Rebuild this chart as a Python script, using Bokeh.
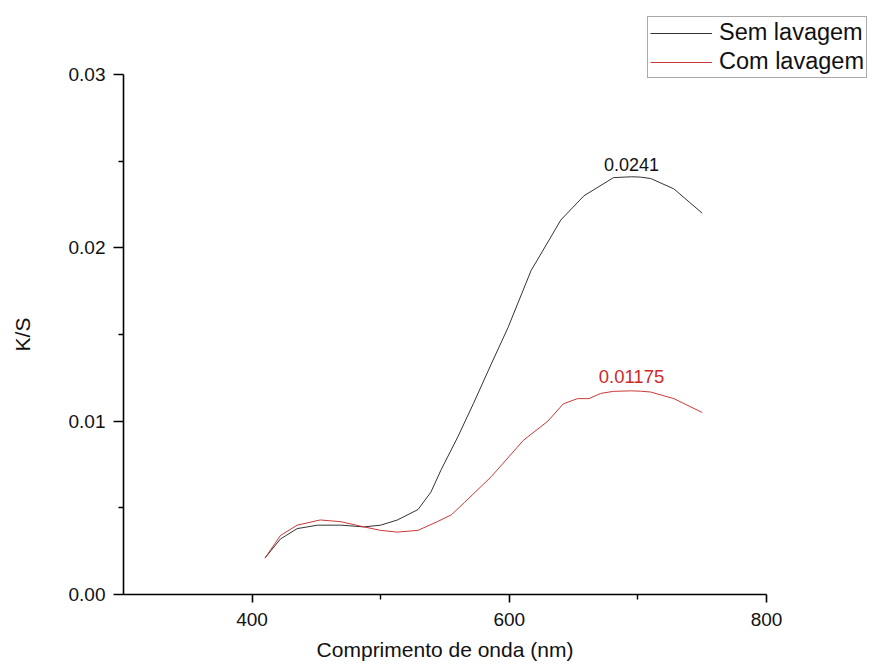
import math
import numpy as np
from bokeh.plotting import figure
from bokeh.models import Range1d, FixedTicker, NumeralTickFormatter, Legend, LegendItem, Label
from bokeh.core.properties import value
from bokeh.embed import file_html
from bokeh.resources import INLINE

# ---- data ----
wavelength_sem = [410, 422, 435, 451, 469, 487, 500, 513, 529, 539, 547, 560, 572, 586, 599,
                  617, 625, 640, 658, 681, 695, 702, 710, 728, 750]
ks_sem = [0.0021, 0.0032, 0.0038, 0.0040, 0.0040, 0.0039, 0.0040, 0.0043, 0.0049, 0.0059, 0.0072,
          0.0091, 0.0110, 0.0133, 0.0154, 0.0187, 0.0197, 0.0216, 0.0230, 0.02405, 0.0241,
          0.02408, 0.0240, 0.0234, 0.0220]

wavelength_com = [410, 422, 435, 453, 469, 487, 500, 513, 529, 544, 555, 565, 586, 611, 630,
                  642, 653, 662, 671, 681, 695, 702, 710, 728, 750]
ks_com = [0.0021, 0.0034, 0.0040, 0.0043, 0.0042, 0.0039, 0.0037, 0.0036, 0.0037, 0.0042, 0.0046,
          0.0053, 0.0068, 0.0089, 0.0100, 0.0110, 0.0113, 0.0113, 0.0116, 0.01172, 0.01175,
          0.01173, 0.01168, 0.0113, 0.0105]

series_names = ["Sem lavagem", "Com lavagem"]
peak_labels = ["0.0241", "0.01175"]
x_title = "Comprimento de onda (nm)"
y_title = "K/S"
x_bounds = (300, 800)
y_bounds = (0.0, 0.03)
x_ticks = [400, 600, 800]
x_minor = [500, 700]
y_ticks = [0.0, 0.01, 0.02, 0.03]
y_minor = [0.005, 0.015, 0.025]

FONT = "Liberation Sans"
BLACK_LINE = "#333333"
RED_LINE = "#cc3838"
RED_TEXT = "#d02828"

# ---- layout (pixels): canvas is the frame, axes are drawn at fixed locations ----
W, H = 870, 662
AX_LEFT, AX_RIGHT, AX_TOP, AX_BOTTOM = 123, 766, 74, 594
sx = (AX_RIGHT - AX_LEFT) / (x_bounds[1] - x_bounds[0])
sy = (AX_BOTTOM - AX_TOP) / (y_bounds[1] - y_bounds[0])
x_range = Range1d(x_bounds[0] - AX_LEFT / sx, x_bounds[0] + (W - AX_LEFT) / sx)
y_range = Range1d(y_bounds[0] - (H - AX_BOTTOM) / sy, y_bounds[0] + AX_BOTTOM / sy)

p = figure(width=W, height=H, output_backend="svg", toolbar_location=None,
           x_range=x_range, y_range=y_range)
p.min_border = 0
p.min_border_left = p.min_border_right = p.min_border_top = p.min_border_bottom = 0
p.outline_line_color = None
p.grid.visible = False
p.background_fill_color = "white"
p.border_fill_color = "white"

p.xaxis.fixed_location = y_bounds[0]
p.yaxis.fixed_location = x_bounds[0]
p.xaxis.bounds = x_bounds
p.yaxis.bounds = y_bounds
p.xaxis.ticker = FixedTicker(ticks=x_ticks, minor_ticks=x_minor)
p.yaxis.ticker = FixedTicker(ticks=y_ticks, minor_ticks=y_minor)
p.yaxis.formatter = NumeralTickFormatter(format="0.00")

for ax in (p.xaxis[0], p.yaxis[0]):
    ax.axis_line_width = 1.6
    ax.axis_line_color = "black"
    ax.major_tick_line_width = 1.6
    ax.minor_tick_line_width = 1.4
    ax.major_tick_in = 0
    ax.minor_tick_in = 0
    ax.major_label_text_font = FONT
    ax.major_label_text_font_size = "19px"
    ax.major_label_text_color = "#111111"
p.xaxis.major_tick_out = 8
p.xaxis.minor_tick_out = 5
p.yaxis.major_tick_out = 10
p.yaxis.minor_tick_out = 5
p.xaxis.major_label_standoff = 10
p.yaxis.major_label_standoff = 8

# axis titles
p.add_layout(Label(x=(AX_LEFT + AX_RIGHT) / 2, y=H - 649, x_units="screen", y_units="screen",
                   text=x_title, text_align="center", text_baseline="middle",
                   text_font=FONT, text_font_size="21px", text_color="#111111"))
p.add_layout(Label(x=22, y=H - (AX_TOP + AX_BOTTOM) / 2, x_units="screen", y_units="screen",
                   angle=math.pi / 2, text=y_title, text_align="center", text_baseline="middle",
                   text_font=FONT, text_font_size="21px", text_color="#111111"))

r_sem = p.line(wavelength_sem, ks_sem, line_color=BLACK_LINE, line_width=1)
r_com = p.line(wavelength_com, ks_com, line_color=RED_LINE, line_width=1)

# peak annotations
i_sem = int(np.argmax(ks_sem))
i_com = int(np.argmax(ks_com))
p.text(x=[wavelength_sem[i_sem]], y=[ks_sem[i_sem]], text=[peak_labels[0]],
       text_align="center", text_baseline="alphabetic", y_offset=-12,
       text_font=value(FONT), text_font_size="18px", text_color="#111111")
p.text(x=[wavelength_com[i_com]], y=[ks_com[i_com]], text=[peak_labels[1]],
       text_align="center", text_baseline="alphabetic", y_offset=-14,
       text_font=value(FONT), text_font_size="18.5px", text_color=RED_TEXT)

legend = Legend(items=[LegendItem(label=series_names[0], renderers=[r_sem]),
                       LegendItem(label=series_names[1], renderers=[r_com])],
                location=(647, H - 78))
legend.label_text_font = FONT
legend.label_text_font_size = "23.5px"
legend.label_text_color = "#111111"
legend.glyph_width = 62
legend.glyph_height = 26
legend.label_height = 26
legend.label_standoff = 7
legend.spacing = 2
legend.padding = 2
legend.margin = 0
legend.border_line_color = "#555555"
legend.border_line_width = 1
legend.background_fill_alpha = 1.0
p.add_layout(legend, "center")

open("out.html", "w").write(file_html(p, INLINE))
